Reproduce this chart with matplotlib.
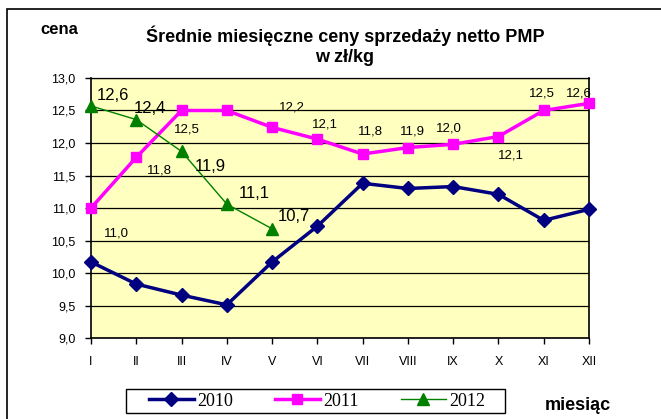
import numpy as np
import matplotlib
matplotlib.use('Agg')
import matplotlib.pyplot as plt
from matplotlib.patches import Rectangle

months = ['I', 'II', 'III', 'IV', 'V', 'VI', 'VII', 'VIII', 'IX', 'X', 'XI', 'XII']
y2010 = [10.17, 9.83, 9.66, 9.51, 10.17, 10.72, 11.38, 11.30, 11.33, 11.21, 10.81, 10.98]
y2011 = [11.00, 11.78, 12.50, 12.50, 12.24, 12.06, 11.83, 11.93, 11.98, 12.10, 12.50, 12.61]
y2012 = [12.57, 12.36, 11.87, 11.06, 10.68]

# offsets of data labels (pixels) - 2011 has no label for IV
off2011 = {0: (25, -25), 1: (23, -13), 2: (5, -19), 4: (20, 20), 5: (8, 15), 6: (8, 23),
           7: (5, 16), 8: (-4, 16), 9: (12, -19), 10: (-2, 17), 11: (-10, 10)}
off2012 = [(22, 10), (14, 11), (29, -15), (27, 11), (22, 12)]

plt.rcParams['font.family'] = ['Liberation Sans', 'DejaVu Sans']

fig = plt.figure(figsize=(6.61, 4.19), dpi=100)
ax = fig.add_axes([91 / 661, 1 - 338 / 419, 498 / 661, 260 / 419])
ax.set_facecolor('#FFFFC0')

x = np.arange(len(months))
ax.plot(x, y2010, color='#000080', lw=2.5, marker='D', ms=7, label='2010', zorder=4, clip_on=False)
ax.plot(x, y2011, color='#FF00FF', lw=2.5, marker='s', ms=7, label='2011', zorder=3, clip_on=False)
ax.plot(x[:len(y2012)], y2012, color='#008000', lw=1, marker='^', ms=8, label='2012', zorder=5, clip_on=False)

def fmt(v):
    return ('%.1f' % v).replace('.', ',')

for i, (dx, dy) in off2011.items():
    ax.annotate(fmt(y2011[i]), (x[i], y2011[i]), xytext=(dx, dy), textcoords='offset pixels',
                ha='center', va='center', fontsize=9.5, zorder=6)
for i, (dx, dy) in enumerate(off2012):
    ax.annotate(fmt(y2012[i]), (x[i], y2012[i]), xytext=(dx, dy), textcoords='offset pixels',
                ha='center', va='center', fontsize=12, zorder=6)

ax.set_xlim(0, 11)
ax.set_ylim(9, 13)
ax.set_xticks(x)
ax.set_xticklabels(months)
yt = np.arange(9, 13.01, 0.5)
ax.set_yticks(yt)
ax.set_yticklabels([fmt(v) for v in yt])
ax.tick_params(axis='both', labelsize=9, length=4, width=1, direction='out')
ax.tick_params(axis='x', pad=9)
ax.tick_params(axis='y', pad=7)
ax.yaxis.grid(True, color='black', lw=0.9)
ax.set_axisbelow(True)
for s in ax.spines.values():
    s.set_linewidth(1.2)
    s.set_color('black')
ax.spines['top'].set_linewidth(0.9)

fig.text(345 / 661, 1 - 36 / 419, 'Średnie miesięczne ceny sprzedaży netto PMP', ha='center', va='center',
         fontsize=13, fontweight='bold')
fig.text(345 / 661, 1 - 58 / 419, 'w zł/kg', ha='center', va='center', fontsize=13, fontweight='bold')
fig.text(40 / 661, 1 - 30 / 419, 'cena', ha='left', va='center', fontsize=12, fontweight='bold')
fig.text(545 / 661, 1 - 405 / 419, 'miesiąc', ha='left', va='center', fontsize=13, fontweight='bold')

leg = fig.legend(loc='center', bbox_to_anchor=(317 / 661, 1 - 401 / 419), ncol=3, frameon=False,
                 prop={'family': 'Liberation Serif', 'size': 13},
                 handlelength=2.5, handletextpad=0.2, columnspacing=2.3, borderpad=0.15)
fig.patches.append(Rectangle((126 / 661, 1 - 413 / 419), 379 / 661, 24 / 419, transform=fig.transFigure,
                             fill=False, edgecolor='black', lw=1, figure=fig))

fig.patches.append(Rectangle((7 / 661, -0.1), 1, 1 - 9 / 419 + 0.1, transform=fig.transFigure,
                             fill=False, edgecolor='black', lw=1.2, figure=fig))

fig.savefig('out.png', dpi=100)
